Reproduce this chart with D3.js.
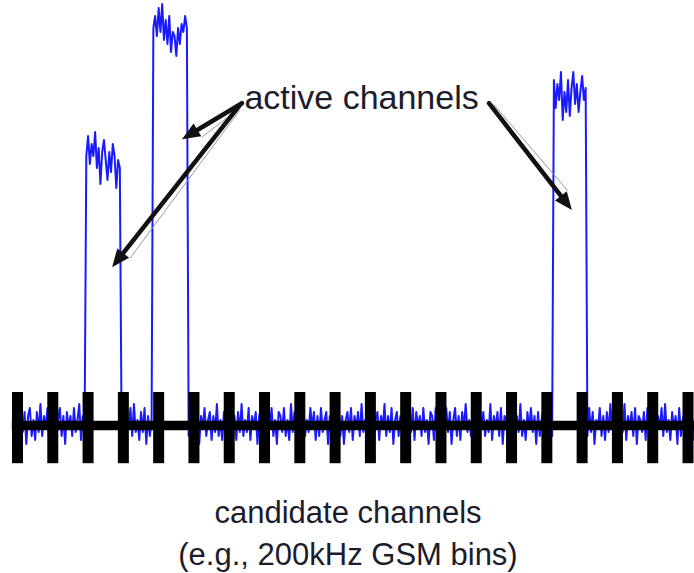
<!DOCTYPE html>
<html><head><meta charset="utf-8">
<script src="https://cdn.jsdelivr.net/npm/d3@7"></script>
<style>html,body{margin:0;padding:0;background:#fff;}svg{display:block;}</style>
</head><body>
<svg id="chart" width="694" height="573"></svg>
<script>
// Candidate channel boundaries (channel index)
const tickChannels = [0,1,2,3,4,5,6,7,8,9,10,11,12,13,14,15,16,17,18,19];
// Spectrum trace sampled every 0.05 channel; one row of 20 samples per channel
const sampleStep = 0.05;
const powerRows = [
  [1,-3,4,-2,3,-5,2,4,-3,1,-4,3,-2,5,-3,2,-1,4,-4,2],
  [-2,3,-4,1,4,-3,2,-5,3,-1,2,-3,4,-2,1,5,-4,2,-3,67],
  [72,65,70,67,73,64,69,60,68,71,66,61,68,63,70,67,59,66,64,-2],
  [3,-4,2,-1,4,-3,5,-2,1,-4,3,-2,4,-5,2,-3,1,99,102,97],
  [104,98,105,96,101,95,102,93,98,97,92,99,95,100,98,102,99,-3,2,-4],
  [4,-2,3,-5,2,-1,4,-3,1,3,-4,2,-2,5,-3,1,-4,3,-1,2],
  [-3,4,-1,2,-4,3,-2,5,-3,1,-2,4,-4,2,-1,3,-5,2,4,-2],
  [2,-4,3,-1,4,-3,1,-5,3,2,-2,4,-3,1,-4,5,-2,3,-1,2],
  [-4,2,5,-3,1,-2,4,-1,3,-4,2,-3,4,-2,1,3,-5,2,-1,4],
  [3,-1,4,-3,2,-5,1,3,-2,4,-4,2,-1,3,-3,5,-2,1,-4,2],
  [-2,4,-3,1,3,-4,2,-1,5,-3,2,-2,4,-5,1,3,-3,2,-1,4],
  [5,-3,1,-2,4,-4,3,-1,2,-3,4,-2,1,-5,3,2,-4,4,-1,2],
  [-3,2,-1,4,-2,3,-5,1,4,-3,2,-4,3,-1,5,-2,1,-3,4,-2],
  [2,-4,4,-1,3,-3,1,-2,5,-4,2,-1,3,-3,4,-5,2,1,-2,3],
  [-1,3,-4,2,-2,5,-3,1,-4,3,-1,4,-2,2,-5,3,-3,1,4,-2],
  [3,-2,4,-3,86,79,85,81,88,76,83,78,86,77,84,88,80,85,78,83],
  [87,81,84,-3,4,-2,3,-5,1,-1,4,-3,2,-4,3,-2,5,-1,2,-3],
  [4,-3,1,-2,5,-4,2,-1,3,-3,4,-5,2,1,-2,3,-4,4,-1,2],
  [-2,3,-4,2,-1,4,-3,5,-2,1,-4,3,-1,2,-5,4,-3,1,3,-2],
  [3,-1,4,-4,2,-3,1,5,-2,3,-4,2,-1,4,-3,2,-2,3,-1,1]
];
// Annotations (channel, power)
const labelText = "active channels";
const labelPos = [9.75, 78.7];
const arrowTails = [[6.36, 80.2],[6.30, 79.7],[13.36, 80.2]];
const arrowTips  = [[4.66, 71.2],[2.68, 39.2],[15.71, 53.5]];
const captionLines = ["candidate channels", "(e.g., 200kHz GSM bins)"];

const svg = d3.select("#chart");
const x = d3.scaleLinear().domain([0, 19]).range([17.5, 688]);
const y = d3.scaleLinear().domain([0, 105]).range([424, 4]);

const samples = [];
powerRows.forEach(row => row.forEach(v => samples.push(v)));
const trace = samples.map((v, i) => [i * sampleStep, v]);

svg.append("path")
  .datum(trace)
  .attr("fill", "none")
  .attr("stroke", "#1a1aff")
  .attr("stroke-width", 2)
  .attr("stroke-linejoin", "round")
  .attr("d", d3.line().x(d => x(d[0])).y(d => y(d[1])));

// Axis: thick line with thick ticks
const axisY = y(-0.4);
svg.append("line")
  .attr("x1", x(-0.16)).attr("x2", 694)
  .attr("y1", axisY).attr("y2", axisY)
  .attr("stroke", "#000").attr("stroke-width", 9.5);
svg.selectAll("rect.tick").data(tickChannels).enter().append("rect")
  .attr("class", "tick")
  .attr("x", d => x(d) - 5.5)
  .attr("width", 11)
  .attr("y", y(8))
  .attr("height", y(-9.8) - y(8))
  .attr("fill", "#000");

// Arrows
function arrow(t, p) {
  const x0 = x(t[0]), y0 = y(t[1]), x1 = x(p[0]), y1 = y(p[1]);
  const dx = x1 - x0, dy = y1 - y0, L = Math.hypot(dx, dy);
  const ux = dx / L, uy = dy / L, nx = -uy, ny = ux;
  const hl = 18, hw = 7.5;
  const bx = x1 - ux * hl, by = y1 - uy * hl;
  svg.append("line")
    .attr("x1", x0 - nx * 3 + ux * 4).attr("y1", y0 - ny * 3 + uy * 4)
    .attr("x2", bx - nx * (hw + 1)).attr("y2", by - ny * (hw + 1))
    .attr("stroke", "#9a9a9a").attr("stroke-width", 1);
  svg.append("line")
    .attr("x1", x0).attr("y1", y0).attr("x2", bx + ux * 2).attr("y2", by + uy * 2)
    .attr("stroke", "#111").attr("stroke-width", 4.5).attr("stroke-linecap", "round");
  svg.append("path")
    .attr("d", `M${x1},${y1}L${bx + nx * hw},${by + ny * hw}L${bx - nx * hw},${by - ny * hw}Z`)
    .attr("fill", "#111");
}
arrowTails.forEach((t, i) => arrow(t, arrowTips[i]));

svg.append("text")
  .attr("x", x(labelPos[0])).attr("y", y(labelPos[1]))
  .attr("text-anchor", "middle")
  .attr("font-family", "'Liberation Sans', Arial, sans-serif")
  .attr("font-size", 34).attr("fill", "#1c1c2c")
  .text(labelText);

svg.selectAll("text.cap").data(captionLines).enter().append("text")
  .attr("class", "cap")
  .attr("x", 348).attr("y", (d, i) => 523 + i * 42)
  .attr("text-anchor", "middle")
  .attr("font-family", "'Liberation Sans', Arial, sans-serif")
  .attr("font-size", 31).attr("fill", "#1c1c2c")
  .text(d => d);
</script>
</body></html>
